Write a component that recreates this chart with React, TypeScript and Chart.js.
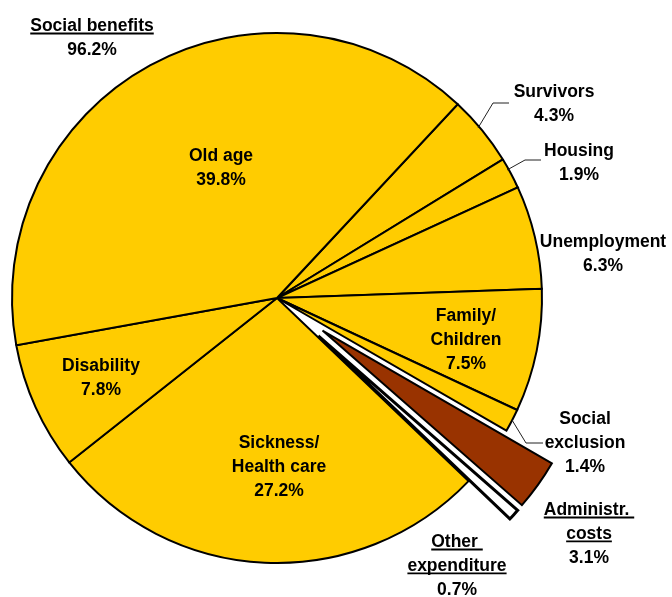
import React, { useEffect, useRef } from "react";
import { Chart, registerables } from "chart.js";

Chart.register(...registerables);

// ---- data ----
const categories = [
  "Survivors",
  "Housing",
  "Unemployment",
  "Family/\nChildren",
  "Social\nexclusion",
  "Administr. \ncosts",
  "Other \nexpenditure",
  "Sickness/\nHealth care",
  "Disability",
  "Old age",
];
const shares = [4.3, 1.9, 6.3, 7.5, 1.4, 3.1, 0.7, 27.2, 7.8, 39.8];
const groupLabel = "Social benefits";
const groupShare = 96.2;

// ---- styles / layout ----
const YELLOW = "#FFCC00";
const BROWN = "#993300";
const sliceColors = [YELLOW, YELLOW, YELLOW, YELLOW, YELLOW, BROWN, "#FFFFFF", YELLOW, YELLOW, YELLOW];
const sliceBorders = [2, 2, 2, 2, 2, 2, 3, 2, 2, 2];
const EXPLODED = [5, 6];
const EXPLODE_PX = 56;
const FONT = "bold 17.5px 'Liberation Sans', Arial, sans-serif";
const LINE_H = 23.8;

// label anchors: center x, first baseline y
const labelPos: { x: number; y: number; underline?: boolean }[] = [
  { x: 554, y: 97 },
  { x: 579, y: 156 },
  { x: 603, y: 247 },
  { x: 466, y: 321 },
  { x: 585, y: 424 },
  { x: 589, y: 515, underline: true },
  { x: 457, y: 547, underline: true },
  { x: 279, y: 448 },
  { x: 101, y: 371 },
  { x: 221, y: 161 },
];
const groupPos = { x: 92, y: 31 };
const leaders: number[][][] = [
  [[509, 103], [493, 103], [478, 128]],
  [[541, 160], [525, 160], [507, 170]],
  [[543, 443], [526, 443], [512, 420]],
];

const explodePlugin = {
  id: "explodeSlices",
  afterDatasetsUpdate(chart: any) {
    const meta = chart.getDatasetMeta(0);
    meta.data.forEach((arc: any, i: number) => {
      if (EXPLODED.includes(i)) {
        const mid = (arc.startAngle + arc.endAngle) / 2;
        arc.x += Math.cos(mid) * EXPLODE_PX;
        arc.y += Math.sin(mid) * EXPLODE_PX;
      }
    });
  },
};

function drawBlock(ctx: CanvasRenderingContext2D, lines: string[], x: number, y: number, underlineCount: number) {
  lines.forEach((line, k) => {
    const by = y + k * LINE_H;
    const w = ctx.measureText(line).width;
    const left = x - w / 2;
    ctx.textAlign = "left";
    ctx.fillText(line, left, by);
    if (k < underlineCount) {
      ctx.beginPath();
      ctx.lineWidth = 1.8;
      ctx.moveTo(left, by + 2.5);
      ctx.lineTo(left + w, by + 2.5);
      ctx.stroke();
    }
  });
}

const labelPlugin = {
  id: "sliceLabels",
  afterDraw(chart: any) {
    const ctx: CanvasRenderingContext2D = chart.ctx;
    ctx.save();
    ctx.font = FONT;
    ctx.fillStyle = "#000";
    ctx.strokeStyle = "#000";
    ctx.textBaseline = "alphabetic";
    categories.forEach((name, i) => {
      const p = labelPos[i];
      const nameLines = name.split("\n");
      const lines = [...nameLines, shares[i].toFixed(1) + "%"];
      drawBlock(ctx, lines, p.x, p.y, p.underline ? nameLines.length : 0);
    });
    drawBlock(ctx, [groupLabel, groupShare.toFixed(1) + "%"], groupPos.x, groupPos.y, 1);
    ctx.lineWidth = 1;
    ctx.strokeStyle = "#222";
    leaders.forEach((pts) => {
      ctx.beginPath();
      pts.forEach(([px, py], k) => (k ? ctx.lineTo(px, py) : ctx.moveTo(px, py)));
      ctx.stroke();
    });
    ctx.restore();
  },
};

export default function App() {
  const ref = useRef<HTMLCanvasElement>(null);
  useEffect(() => {
    if (!ref.current) return;
    const chart = new Chart(ref.current, {
      type: "pie",
      data: {
        labels: categories.map((c) => c.replace("\n", " ")),
        datasets: [
          {
            data: shares,
            backgroundColor: sliceColors,
            borderColor: "#000",
            borderWidth: sliceBorders,
            borderJoinStyle: "miter",
          } as any,
        ],
      },
      options: {
        responsive: false,
        animation: false,
        events: [],
        rotation: 43,
        radius: 265,
        layout: { padding: { left: 12, right: 130, top: 33, bottom: 34 } },
        plugins: { legend: { display: false }, tooltip: { enabled: false } },
      } as any,
      plugins: [explodePlugin, labelPlugin],
    });
    return () => chart.destroy();
  }, []);
  return (
    <div style={{ position: "fixed", left: 0, top: 0, width: 672, height: 597, background: "#fff" }}>
      <canvas ref={ref} width={672} height={597} style={{ width: 672, height: 597 }} />
    </div>
  );
}
